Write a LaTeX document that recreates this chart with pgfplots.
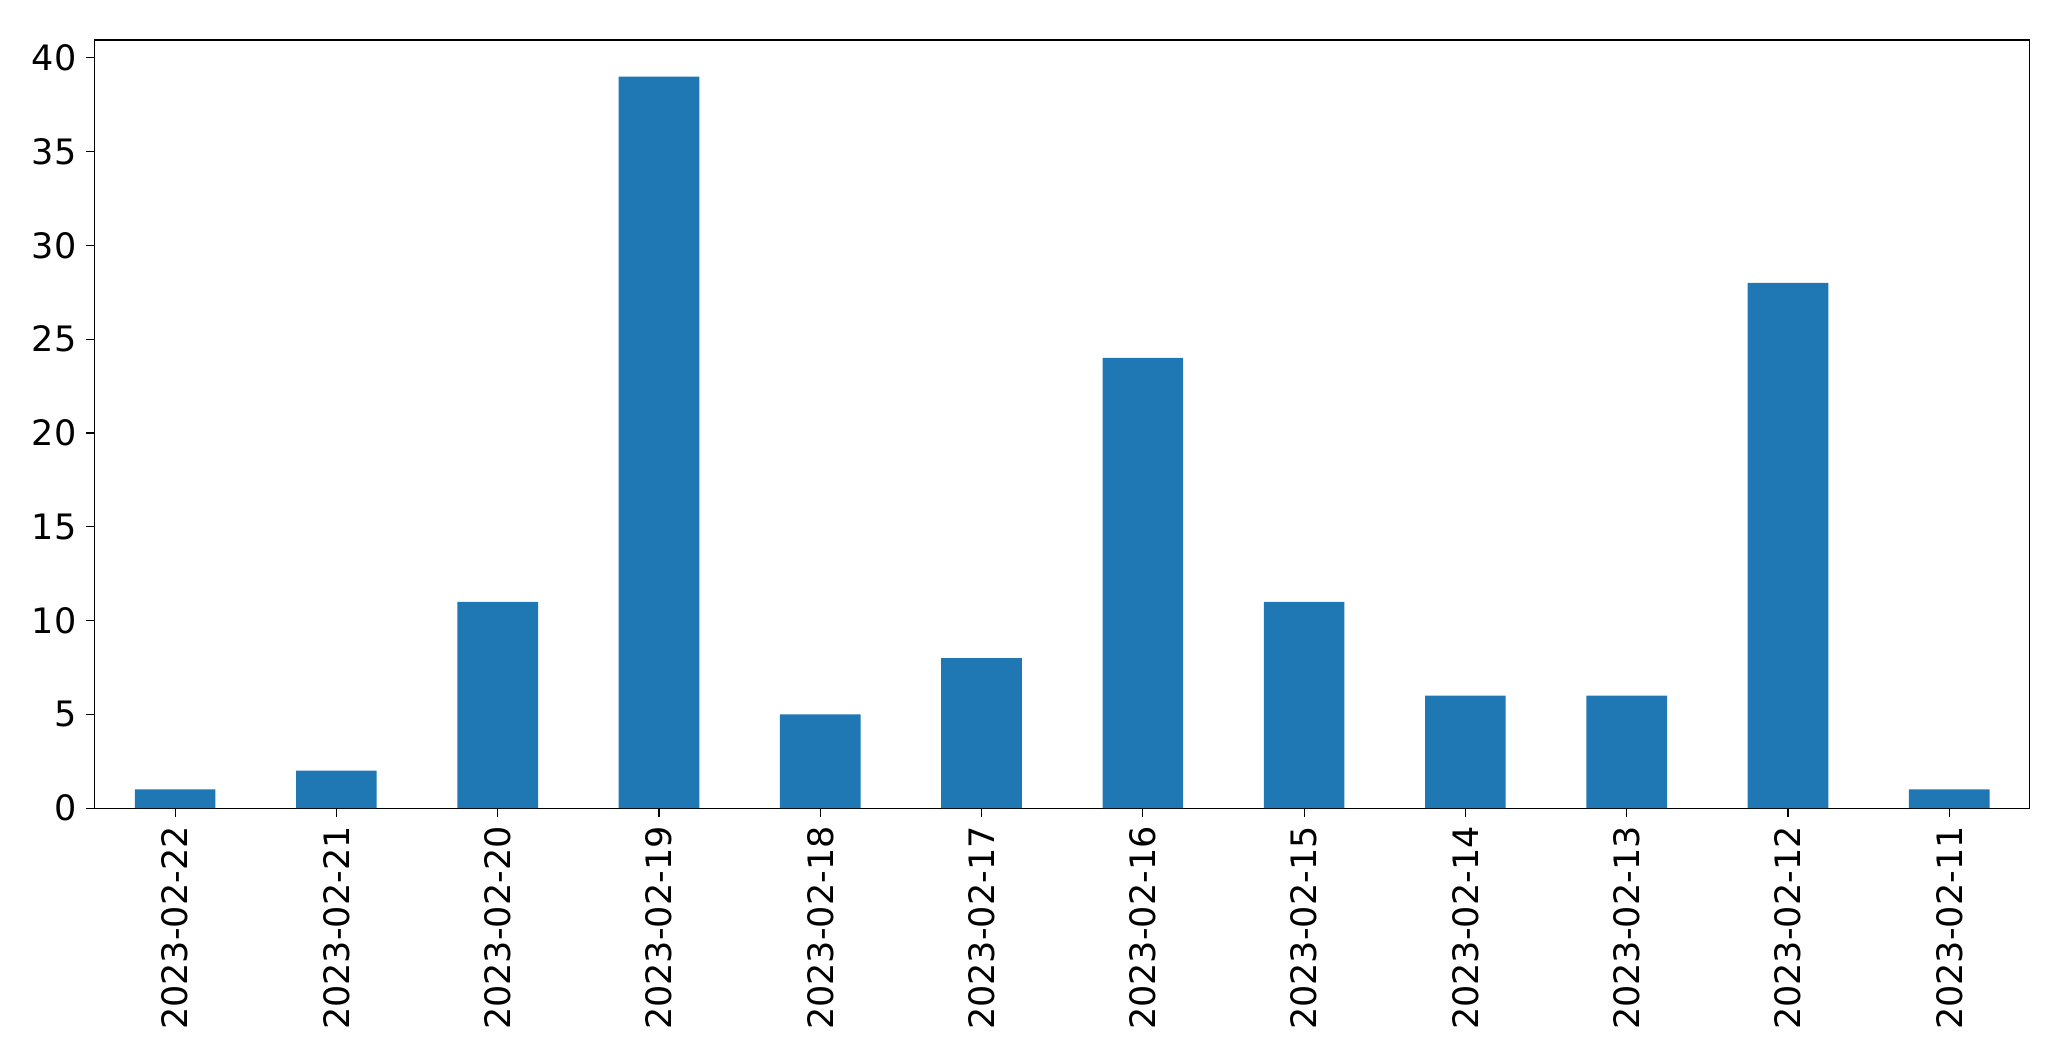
\documentclass[border=0pt]{standalone}
\usepackage{fontspec}
\setmainfont{DejaVu Sans}
\usepackage{pgfplots}
\pgfplotsset{compat=1.18}
\definecolor{mplblue}{HTML}{1F77B4}
\begin{document}
\begin{tikzpicture}
\begin{axis}[
  scale only axis,
  width=696.6pt, height=276.5pt,
  xmin=-0.5, xmax=11.5,
  ymin=0, ymax=40.95,
  xtick={0,...,11},
  xticklabels={2023-02-22,2023-02-21,2023-02-20,2023-02-19,2023-02-18,2023-02-17,2023-02-16,2023-02-15,2023-02-14,2023-02-13,2023-02-12,2023-02-11},
  xticklabel style={rotate=90, anchor=east},
  ytick={0,5,...,40},
  tick align=outside,
  major tick length=3pt,
  tick style={black, line width=0.4pt},
  xtick pos=bottom, ytick pos=left,
  axis line style={line width=0.4pt},
  ticklabel style={font=\fontsize{12.6}{14}\selectfont},
  /pgf/number format/assume math mode=true,
  axis on top=false,
]
\addplot[ybar, bar width=0.5, fill=mplblue, draw=none] coordinates {
(0,1) (1,2) (2,11) (3,39) (4,5) (5,8) (6,24) (7,11) (8,6) (9,6) (10,28) (11,1)
};
\end{axis}
\pgfresetboundingbox
\path (current axis.south west) +(-34pt,-91pt) coordinate (bl);
\path (current axis.north east) +(14.8pt,14.4pt) coordinate (tr);
\path[use as bounding box] (bl) rectangle (tr);
\end{tikzpicture}
\end{document}
